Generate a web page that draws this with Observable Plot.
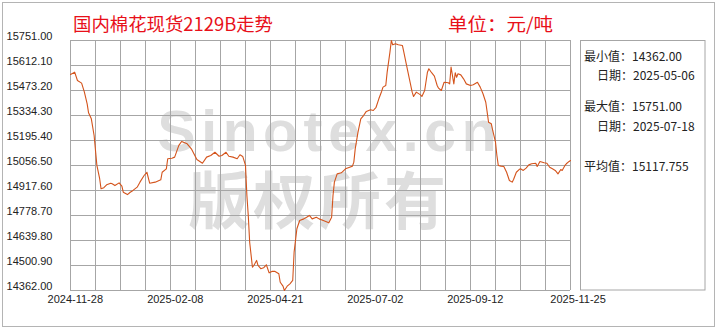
<!DOCTYPE html>
<html>
<head>
<meta charset="utf-8">
<script src="https://cdn.jsdelivr.net/npm/d3@7"></script>
<script src="https://cdn.jsdelivr.net/npm/@observablehq/plot@0.6"></script>
<style>
  html, body { margin: 0; padding: 0; background: #fff; }
  #chart { width: 720px; height: 330px; }
</style>
</head>
<body>
<div id="chart"></div>
<script>
const title = "国内棉花现货2129B走势";
const unitText = "单位：元/吨";
const dates = [
"2024-11-26","2024-11-29","2024-12-01","2024-12-04","2024-12-06","2024-12-08","2024-12-09","2024-12-11","2024-12-13","2024-12-15",
"2024-12-17","2024-12-18","2024-12-20","2024-12-22","2024-12-25","2024-12-26","2024-12-28","2024-12-31","2025-01-02","2025-01-03",
"2025-01-06","2025-01-08","2025-01-10","2025-01-13","2025-01-15","2025-01-18","2025-01-20","2025-01-22","2025-01-26","2025-01-30",
"2025-01-31","2025-02-03","2025-02-04","2025-02-07","2025-02-09","2025-02-12","2025-02-14","2025-02-18","2025-02-21","2025-02-25",
"2025-03-01","2025-03-04","2025-03-07","2025-03-10","2025-03-13","2025-03-15","2025-03-18","2025-03-20","2025-03-23","2025-03-26",
"2025-03-28","2025-03-30","2025-04-01","2025-04-02","2025-04-03","2025-04-04","2025-04-06","2025-04-07","2025-04-09","2025-04-10",
"2025-04-12","2025-04-14","2025-04-16","2025-04-18","2025-04-20","2025-04-22","2025-04-25","2025-04-26","2025-04-28","2025-04-29",
"2025-05-01","2025-05-03","2025-05-05","2025-05-06","2025-05-08","2025-05-10","2025-05-13","2025-05-15","2025-05-17","2025-05-19",
"2025-05-22","2025-05-24","2025-05-27","2025-05-31","2025-06-02","2025-06-03","2025-06-04","2025-06-06","2025-06-09","2025-06-12",
"2025-06-15","2025-06-17","2025-06-18","2025-06-19","2025-06-21","2025-06-23","2025-06-25","2025-06-27","2025-06-30","2025-07-02",
"2025-07-04","2025-07-06","2025-07-08","2025-07-09","2025-07-11","2025-07-12","2025-07-14","2025-07-15","2025-07-16","2025-07-18",
"2025-07-20","2025-07-23","2025-07-24","2025-07-26","2025-07-28","2025-07-30","2025-07-31","2025-08-02","2025-08-05","2025-08-06",
"2025-08-08","2025-08-10","2025-08-11","2025-08-13","2025-08-15","2025-08-17","2025-08-18","2025-08-20","2025-08-22","2025-08-25",
"2025-08-26","2025-08-27","2025-08-29","2025-08-30","2025-08-31","2025-09-01","2025-09-03","2025-09-05","2025-09-07","2025-09-10",
"2025-09-12","2025-09-15","2025-09-17","2025-09-19","2025-09-21","2025-09-22","2025-09-23","2025-09-25","2025-09-26","2025-09-28",
"2025-09-29","2025-09-30","2025-10-02","2025-10-04","2025-10-06","2025-10-08","2025-10-10","2025-10-11","2025-10-13","2025-10-15",
"2025-10-16","2025-10-18","2025-10-20","2025-10-22","2025-10-24","2025-10-27","2025-10-28","2025-10-30","2025-11-02","2025-11-04",
"2025-11-06","2025-11-08","2025-11-10","2025-11-12","2025-11-14","2025-11-15","2025-11-17","2025-11-18","2025-11-20","2025-11-21"
];
const prices = [
15562,15575,15529,15514,15464,15399,15349,15316,15223,15057,
14983,14927,14933,14949,14958,14955,14945,14960,14942,14908,
14895,14908,14918,14936,14964,15001,15019,14958,14964,14977,
15019,15038,15094,15097,15103,15168,15190,15177,15149,15090,
15069,15103,15112,15130,15108,15112,15130,15108,15103,15094,
15116,15107,15057,14890,14779,14630,14491,14501,14529,14501,
14483,14488,14505,14460,14468,14469,14455,14408,14386,14362,
14386,14399,14418,14575,14705,14751,14760,14769,14779,14760,
14769,14760,14751,14738,14769,14890,14964,15010,15016,15038,
15047,15053,15075,15149,15242,15316,15334,15357,15366,15362,
15380,15427,15468,15492,15501,15575,15686,15751,15727,15733,
15727,15723,15686,15612,15538,15464,15440,15464,15449,15440,
15473,15575,15594,15572,15553,15501,15486,15473,15519,15516,
15510,15603,15510,15572,15547,15566,15560,15538,15510,15501,
15505,15519,15492,15455,15408,15353,15297,15288,15251,15186,
15112,15057,15053,15051,15019,14973,14964,14979,15019,15034,
15038,15029,15042,15060,15066,15069,15051,15079,15072,15069,
15047,15038,15029,15010,15034,15029,15057,15066,15079,15084
];
const yTicks = [15751.00,15612.10,15473.20,15334.30,15195.40,15056.50,14917.60,14778.70,14639.80,14500.90,14362.00];
const xTickLabels = ["2024-11-28","2025-02-08","2025-04-21","2025-07-02","2025-09-12","2025-11-25"];
const xDomain = ["2024-11-26","2025-11-21"];
const statLabels = ["最小值：","日期：","最大值：","日期：","平均值："];
const statValues = ["14362.00","2025-05-06","15751.00","2025-07-18","15117.755"];
const watermark = ["Sinotex.cn","版权所有"];

const data = dates.map((d, i) => ({date: new Date(d), value: prices[i]}));
const start = new Date(xDomain[0]), end = new Date(xDomain[1]);
const nCols = 20;
const gridDates = d3.range(nCols + 1).map(k => new Date(+start + (end - start) * k / nCols));
const fmt = d3.utcFormat("%Y-%m-%d");
const gridColor = "#a6a6a6";

const chart = Plot.plot({
  width: 720,
  height: 330,
  marginLeft: 70,
  marginRight: 150,
  marginTop: 40,
  marginBottom: 40,
  style: {background: "#fff", fontFamily: "'Liberation Sans', Arial, sans-serif", fontSize: "11px", color: "#222"},
  x: {type: "utc", domain: [start, end]},
  y: {domain: [14362, 15751]},
  marks: [
    Plot.ruleY(yTicks, {y: d => d, stroke: gridColor, strokeWidth: 1, strokeOpacity: 1}),
    Plot.ruleX(gridDates, {x: d => d, stroke: gridColor, strokeWidth: 1, strokeOpacity: 1}),
    Plot.line(data, {x: "date", y: "value", stroke: "#d4541c", strokeWidth: 1.1}),
    Plot.axisY(yTicks, {anchor: "left", tickSize: 0, tickPadding: 18, dy: -4.5, tickFormat: d => d.toFixed(2), label: null}),
    Plot.axisX(xTickLabels.map(d => new Date(d)), {anchor: "bottom", tickSize: 0, tickPadding: 5, dx: 2, tickFormat: fmt, label: null})
  ]
});
document.getElementById("chart").appendChild(chart);

const svg = d3.select(chart);
// watermark under everything
const wm = svg.insert("g", ":first-child").attr("fill", "#dedede");
wm.append("text").attr("x", 327).attr("y", 151).attr("text-anchor", "middle")
  .attr("font-family", "'Liberation Sans', Arial, sans-serif").attr("font-weight", "bold")
  .attr("font-size", 57).attr("textLength", 339).attr("lengthAdjust", "spacing").text(watermark[0]);
wm.append("text").attr("x", 317).attr("y", 224).attr("text-anchor", "middle")
  .attr("font-family", "'Noto Sans CJK SC', sans-serif").attr("font-weight", "bold")
  .attr("font-size", 62).attr("textLength", 258).attr("lengthAdjust", "spacing").text(watermark[1]);

const deco = svg.append("g").attr("text-anchor", "start");
deco.append("rect").attr("x", 2.5).attr("y", 2.5).attr("width", 712).attr("height", 324)
  .attr("fill", "none").attr("stroke", "#b4b4b4").attr("stroke-width", 1);
deco.append("rect").attr("x", 580.5).attr("y", 40.5).attr("width", 124.5).attr("height", 249.5)
  .attr("fill", "none").attr("stroke", gridColor).attr("stroke-width", 1);
deco.append("text").attr("x", 73).attr("y", 31).attr("fill", "#e8101a").attr("text-anchor", "start")
  .attr("font-family", "'Noto Sans CJK SC', sans-serif").attr("font-size", 18)
  .attr("textLength", 200).attr("lengthAdjust", "spacingAndGlyphs").text(title);
deco.append("text").attr("x", 448).attr("y", 31).attr("fill", "#e8101a").attr("text-anchor", "start")
  .attr("font-family", "'Noto Sans CJK SC', sans-serif").attr("font-size", 18)
  .attr("textLength", 105).attr("lengthAdjust", "spacingAndGlyphs").text(unitText);

const statX = [584, 597, 584, 597, 584];
const statY = [60.5, 80, 110.5, 131, 170.5];
statLabels.forEach((lab, i) => {
  deco.append("text").attr("x", statX[i]).attr("y", statY[i]).attr("fill", "#222").attr("text-anchor", "start")
    .attr("font-family", "'Noto Sans CJK SC', sans-serif").attr("font-size", 12)
    .text(lab + statValues[i]);
});
</script>
</body>
</html>
